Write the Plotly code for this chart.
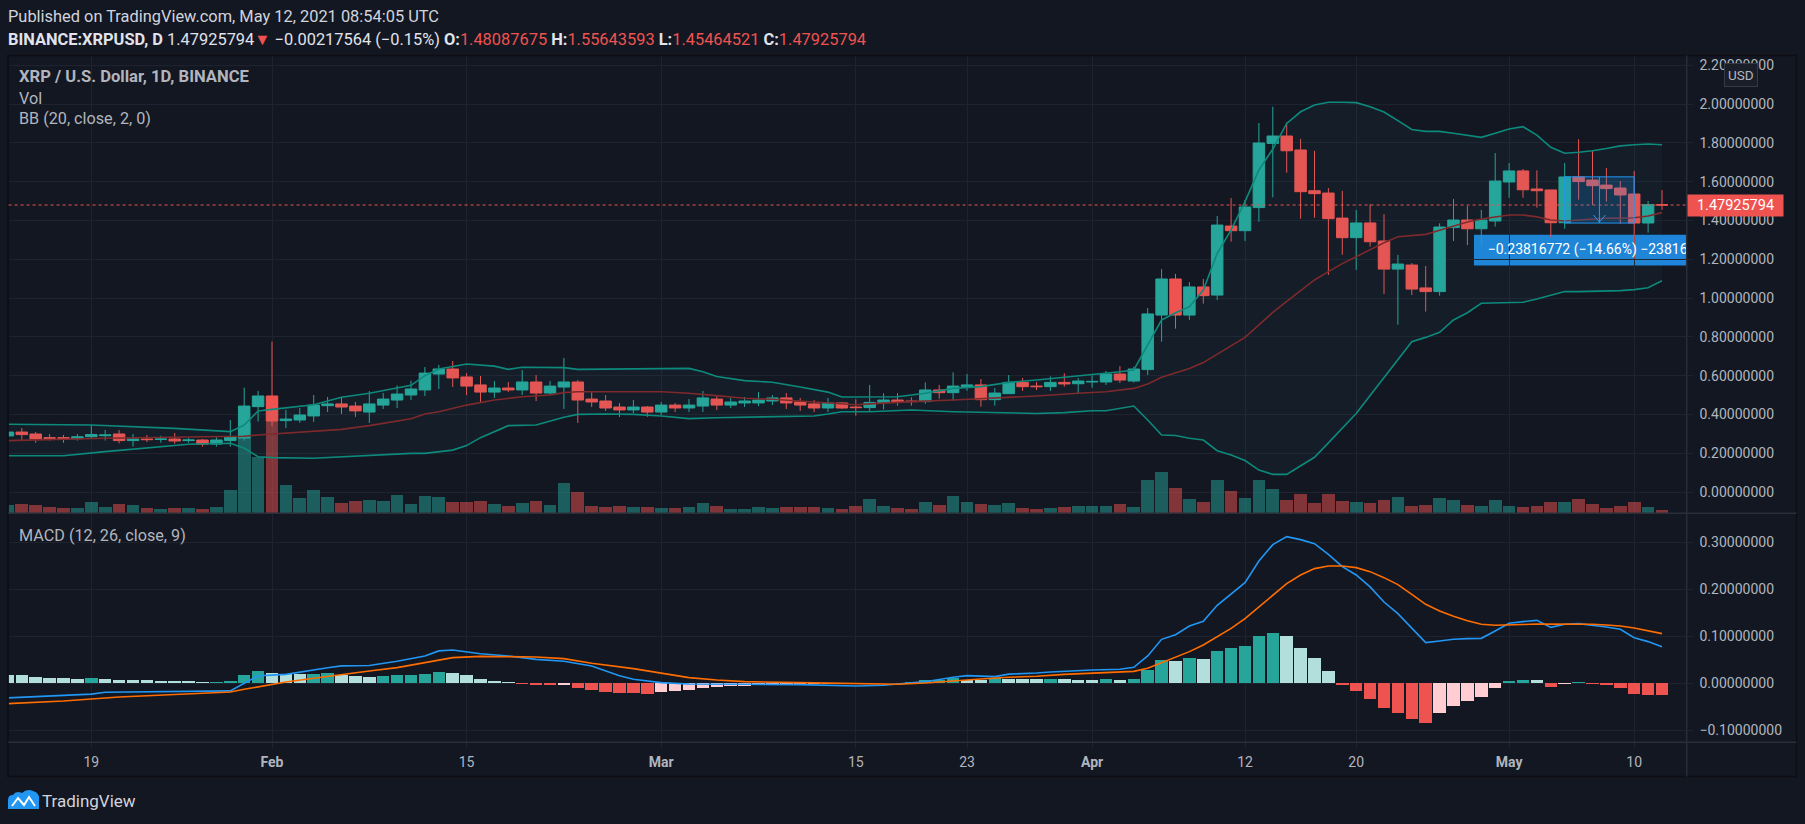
import pandas as pd
import plotly.graph_objects as go

W, H = 1805, 824
FONT = "Roboto, 'Open Sans', 'Liberation Sans', sans-serif"

# ======================= DATA =======================
first_day, last_day = "2021-01-13", "2021-05-12"

open_ = [0.289, 0.309, 0.299, 0.280, 0.280, 0.275, 0.285, 0.290, 0.299, 0.265,
         0.273, 0.271, 0.273, 0.265, 0.268, 0.247, 0.265, 0.278, 0.440, 0.495,
         0.368, 0.371, 0.392, 0.445, 0.454, 0.443, 0.412, 0.448, 0.474, 0.500,
         0.526, 0.608, 0.634, 0.593, 0.552, 0.515, 0.536, 0.526, 0.567, 0.510,
         0.541, 0.567, 0.479, 0.469, 0.438, 0.423, 0.438, 0.412, 0.448, 0.433,
         0.443, 0.479, 0.448, 0.459, 0.459, 0.469, 0.485, 0.464, 0.454, 0.433,
         0.459, 0.438, 0.435, 0.460, 0.474, 0.469, 0.466, 0.526, 0.512, 0.543,
         0.552, 0.476, 0.507, 0.565, 0.546, 0.543, 0.565, 0.558, 0.567, 0.567,
         0.608, 0.572, 0.631, 0.912, 1.098, 0.912, 1.057, 1.015, 1.371, 1.347,
         1.466, 1.797, 1.835, 1.763, 1.553, 1.541, 1.412, 1.311, 1.387, 1.294,
         1.149, 1.170, 1.052, 1.033, 1.363, 1.402, 1.357, 1.397, 1.598, 1.655,
         1.562, 1.557, 1.388, 1.624, 1.608, 1.582, 1.567, 1.536, 1.3865, 1.48087675]
high = [0.315, 0.330, 0.309, 0.299, 0.294, 0.299, 0.345, 0.320, 0.320, 0.299,
        0.294, 0.290, 0.304, 0.278, 0.273, 0.283, 0.371, 0.538, 0.521, 0.775,
        0.423, 0.433, 0.500, 0.490, 0.490, 0.464, 0.521, 0.510, 0.550, 0.574,
        0.644, 0.655, 0.675, 0.613, 0.598, 0.572, 0.567, 0.629, 0.603, 0.572,
        0.691, 0.577, 0.515, 0.500, 0.459, 0.474, 0.443, 0.464, 0.459, 0.479,
        0.521, 0.495, 0.485, 0.490, 0.515, 0.500, 0.510, 0.485, 0.474, 0.485,
        0.464, 0.478, 0.552, 0.509, 0.509, 0.488, 0.565, 0.552, 0.617, 0.608,
        0.582, 0.536, 0.603, 0.588, 0.567, 0.596, 0.612, 0.588, 0.601, 0.624,
        0.649, 0.646, 0.948, 1.149, 1.124, 1.082, 1.098, 1.423, 1.515, 1.505,
        1.902, 1.986, 1.905, 1.820, 1.758, 1.567, 1.552, 1.454, 1.485, 1.433,
        1.222, 1.180, 1.165, 1.385, 1.510, 1.474, 1.454, 1.747, 1.696, 1.665,
        1.658, 1.557, 1.696, 1.818, 1.758, 1.670, 1.603, 1.655, 1.500, 1.55643593]
low = [0.282, 0.268, 0.254, 0.265, 0.254, 0.265, 0.273, 0.265, 0.251, 0.234,
       0.258, 0.254, 0.249, 0.254, 0.234, 0.234, 0.234, 0.265, 0.363, 0.340,
       0.330, 0.357, 0.361, 0.412, 0.402, 0.387, 0.356, 0.428, 0.433, 0.474,
       0.495, 0.531, 0.541, 0.500, 0.464, 0.485, 0.515, 0.500, 0.469, 0.500,
       0.428, 0.356, 0.438, 0.418, 0.387, 0.407, 0.387, 0.397, 0.412, 0.412,
       0.412, 0.423, 0.433, 0.438, 0.443, 0.448, 0.428, 0.418, 0.412, 0.412,
       0.428, 0.393, 0.414, 0.426, 0.445, 0.445, 0.455, 0.481, 0.471, 0.522,
       0.440, 0.445, 0.507, 0.521, 0.526, 0.521, 0.543, 0.505, 0.538, 0.552,
       0.562, 0.564, 0.603, 0.775, 0.842, 0.887, 0.971, 0.990, 1.290, 1.294,
       1.393, 1.519, 1.646, 1.409, 1.414, 1.119, 1.223, 1.144, 1.265, 1.021,
       0.863, 1.015, 0.930, 1.012, 1.294, 1.273, 1.275, 1.368, 1.517, 1.517,
       1.466, 1.314, 1.357, 1.507, 1.479, 1.497, 1.383, 1.203, 1.337, 1.45464521]
close = [0.309, 0.296, 0.273, 0.277, 0.277, 0.285, 0.296, 0.294, 0.265, 0.273,
         0.270, 0.273, 0.263, 0.268, 0.247, 0.268, 0.283, 0.443, 0.495, 0.366,
         0.376, 0.397, 0.448, 0.454, 0.438, 0.418, 0.454, 0.479, 0.505, 0.531,
         0.613, 0.634, 0.588, 0.546, 0.515, 0.536, 0.526, 0.567, 0.510, 0.546,
         0.567, 0.474, 0.464, 0.433, 0.423, 0.438, 0.412, 0.448, 0.433, 0.448,
         0.485, 0.448, 0.464, 0.469, 0.474, 0.485, 0.459, 0.448, 0.433, 0.459,
         0.433, 0.435, 0.462, 0.474, 0.466, 0.466, 0.526, 0.512, 0.546, 0.552,
         0.476, 0.510, 0.565, 0.543, 0.543, 0.565, 0.557, 0.572, 0.570, 0.608,
         0.577, 0.634, 0.918, 1.098, 0.912, 1.057, 1.012, 1.376, 1.347, 1.469,
         1.799, 1.835, 1.759, 1.548, 1.538, 1.409, 1.311, 1.387, 1.290, 1.149,
         1.175, 1.046, 1.033, 1.366, 1.402, 1.357, 1.402, 1.603, 1.655, 1.558,
         1.553, 1.388, 1.624, 1.600, 1.579, 1.564, 1.531, 1.3865, 1.4814, 1.47925794]
volume_m = [25, 28, 25, 19, 16, 16, 34, 19, 28, 25,
            16, 13, 16, 16, 13, 19, 70, 270, 170, 344,
            85, 46, 70, 49, 31, 37, 40, 37, 55, 28,
            52, 49, 34, 34, 37, 28, 22, 31, 37, 25,
            91, 64, 22, 19, 22, 19, 19, 16, 16, 19,
            31, 22, 13, 13, 19, 16, 19, 19, 19, 16,
            13, 22, 43, 22, 16, 13, 34, 25, 52, 34,
            28, 25, 31, 16, 13, 16, 19, 22, 22, 22,
            28, 19, 100, 124, 76, 43, 34, 100, 67, 46,
            100, 73, 40, 58, 31, 58, 37, 34, 31, 40,
            49, 22, 25, 46, 40, 25, 22, 40, 22, 19,
            22, 34, 34, 43, 28, 16, 22, 34, 19, 10]

# Bollinger Bands (20, close, 2) read at the listed days
bb_upper_days = ["01-13", "01-19", "01-25", "01-29", "01-30", "01-31", "02-01", "02-04", "02-06", "02-08",
                 "02-11", "02-12", "02-13", "02-15", "02-17", "02-18", "02-19", "02-22", "02-23", "02-27",
                 "03-03", "03-04", "03-05", "03-07", "03-09", "03-11", "03-13", "03-14", "03-15", "03-18",
                 "03-20", "03-22", "03-24", "03-26", "03-28", "03-30", "04-01", "04-03", "04-04", "04-05",
                 "04-06", "04-07", "04-08", "04-09", "04-10", "04-11", "04-12", "04-13", "04-14", "04-15",
                 "04-16", "04-17", "04-18", "04-19", "04-20", "04-21", "04-22", "04-23", "04-24", "04-25",
                 "04-26", "04-27", "04-28", "04-29", "04-30", "05-01", "05-02", "05-03", "05-04", "05-05",
                 "05-06", "05-07", "05-08", "05-09", "05-10", "05-11", "05-12"]
bb_upper = [0.349, 0.345, 0.328, 0.311, 0.345, 0.418, 0.426, 0.450, 0.488, 0.509,
            0.550, 0.600, 0.634, 0.660, 0.649, 0.632, 0.643, 0.641, 0.632, 0.634,
            0.637, 0.620, 0.595, 0.574, 0.566, 0.541, 0.515, 0.490, 0.490, 0.491,
            0.509, 0.534, 0.543, 0.565, 0.577, 0.591, 0.603, 0.620, 0.629, 0.761,
            0.887, 0.924, 0.955, 1.041, 1.230, 1.351, 1.497, 1.660, 1.768, 1.900,
            1.960, 1.995, 2.009, 2.009, 2.007, 1.986, 1.959, 1.914, 1.869, 1.859,
            1.859, 1.849, 1.840, 1.828, 1.849, 1.871, 1.883, 1.840, 1.777, 1.746,
            1.751, 1.759, 1.771, 1.784, 1.790, 1.794, 1.790]
bb_basis_days = ["01-13", "01-20", "01-27", "01-30", "01-31", "02-04", "02-06", "02-08", "02-11", "02-12",
                 "02-13", "02-15", "02-17", "02-19", "02-21", "02-22", "02-23", "03-01", "03-03", "03-05",
                 "03-07", "03-09", "03-11", "03-13", "03-15", "03-16", "03-19", "03-22", "03-25", "03-28",
                 "03-31", "04-02", "04-04", "04-05", "04-06", "04-07", "04-08", "04-09", "04-10", "04-11",
                 "04-12", "04-13", "04-14", "04-15", "04-16", "04-17", "04-18", "04-19", "04-20", "04-21",
                 "04-22", "04-23", "04-24", "04-25", "04-26", "04-27", "04-28", "04-29", "04-30", "05-01",
                 "05-02", "05-03", "05-04", "05-05", "05-06", "05-07", "05-08", "05-09", "05-10", "05-11",
                 "05-12"]
bb_basis = [0.265, 0.277, 0.285, 0.287, 0.294, 0.311, 0.323, 0.342, 0.378, 0.402,
            0.414, 0.448, 0.474, 0.491, 0.500, 0.512, 0.517, 0.517, 0.509, 0.497,
            0.483, 0.478, 0.469, 0.460, 0.450, 0.454, 0.466, 0.474, 0.483, 0.495,
            0.509, 0.517, 0.534, 0.557, 0.591, 0.612, 0.637, 0.667, 0.710, 0.753,
            0.797, 0.861, 0.926, 0.983, 1.036, 1.093, 1.136, 1.177, 1.213, 1.249,
            1.285, 1.316, 1.321, 1.328, 1.349, 1.371, 1.392, 1.407, 1.419, 1.428,
            1.428, 1.418, 1.402, 1.397, 1.402, 1.407, 1.411, 1.412, 1.414, 1.423,
            1.440]
bb_lower_days = ["01-13", "01-17", "01-20", "01-24", "01-26", "01-29", "01-30", "01-31", "02-01", "02-04",
                 "02-06", "02-08", "02-11", "02-12", "02-14", "02-15", "02-16", "02-18", "02-20", "02-22",
                 "02-23", "02-25", "02-27", "03-01", "03-03", "03-05", "03-08", "03-12", "03-13", "03-14",
                 "03-16", "03-19", "03-22", "03-25", "03-28", "03-30", "04-01", "04-02", "04-04", "04-05",
                 "04-06", "04-07", "04-08", "04-09", "04-10", "04-11", "04-12", "04-13", "04-14", "04-15",
                 "04-16", "04-17", "04-18", "04-19", "04-20", "04-21", "04-22", "04-23", "04-24", "04-25",
                 "04-26", "04-27", "04-28", "04-29", "04-30", "05-01", "05-02", "05-03", "05-04", "05-05",
                 "05-06", "05-07", "05-08", "05-09", "05-10", "05-11", "05-12"]
bb_lower = [0.187, 0.187, 0.208, 0.234, 0.246, 0.251, 0.225, 0.182, 0.177, 0.174,
            0.182, 0.187, 0.199, 0.199, 0.216, 0.239, 0.280, 0.342, 0.345, 0.385,
            0.400, 0.402, 0.400, 0.392, 0.378, 0.383, 0.388, 0.392, 0.402, 0.414,
            0.414, 0.423, 0.414, 0.409, 0.405, 0.409, 0.419, 0.419, 0.443, 0.371,
            0.294, 0.291, 0.277, 0.268, 0.213, 0.191, 0.162, 0.113, 0.091, 0.091,
            0.134, 0.179, 0.253, 0.328, 0.405, 0.497, 0.591, 0.687, 0.775, 0.797,
            0.823, 0.887, 0.924, 0.973, 0.974, 0.976, 0.978, 0.995, 1.015, 1.033,
            1.033, 1.034, 1.035, 1.038, 1.043, 1.053, 1.089]

# MACD (12, 26, close, 9)
macd_days = ["01-13", "01-17", "01-19", "01-20", "01-25", "01-29", "01-30", "01-31", "02-01", "02-02",
             "02-05", "02-06", "02-08", "02-10", "02-12", "02-13", "02-14", "02-15", "02-16", "02-18",
             "02-20", "02-22", "02-24", "02-26", "02-27", "03-01", "03-03", "03-07", "03-11", "03-15",
             "03-17", "03-18", "03-20", "03-22", "03-23", "03-25", "03-26", "03-28", "03-29", "04-01",
             "04-03", "04-04", "04-05", "04-06", "04-07", "04-08", "04-09", "04-10", "04-11", "04-12",
             "04-13", "04-14", "04-15", "04-16", "04-17", "04-18", "04-19", "04-20", "04-21", "04-22",
             "04-23", "04-24", "04-25", "04-26", "04-27", "04-28", "04-29", "04-30", "05-01", "05-02",
             "05-03", "05-04", "05-05", "05-06", "05-07", "05-08", "05-09", "05-10", "05-11", "05-12"]
macd_line = [-0.031, -0.026, -0.023, -0.019, -0.018, -0.016, 0.000, 0.016, 0.0175, 0.019,
             0.033, 0.037, 0.038, 0.047, 0.058, 0.069, 0.071, 0.067, 0.063, 0.058,
             0.051, 0.047, 0.037, 0.016, 0.0085, 0.0014, -0.0014, -0.0021, -0.0028, -0.0057,
             -0.004, -0.0014, 0.0035, 0.0128, 0.0163, 0.0142, 0.0195, 0.022, 0.0241, 0.0284,
             0.0298, 0.034, 0.0582, 0.0936, 0.1035, 0.1220, 0.1319, 0.1660, 0.1894, 0.2142,
             0.2603, 0.2950, 0.3121, 0.3057, 0.2972, 0.2745, 0.2482, 0.2305, 0.2050, 0.1730,
             0.1482, 0.1163, 0.0865, 0.0901, 0.0936, 0.0950, 0.0957, 0.1113, 0.1277, 0.1312,
             0.1340, 0.1190, 0.1255, 0.1270, 0.1240, 0.1199, 0.1149, 0.0970, 0.0887, 0.0780]
signal_days = ["01-13", "01-17", "01-21", "01-25", "01-29", "01-30", "02-01", "02-02", "02-04", "02-06",
               "02-08", "02-10", "02-12", "02-14", "02-16", "02-18", "02-20", "02-22", "02-24", "02-27",
               "03-01", "03-03", "03-05", "03-07", "03-11", "03-15", "03-18", "03-20", "03-22", "03-24",
               "03-26", "03-28", "03-30", "04-01", "04-04", "04-05", "04-06", "04-07", "04-08", "04-09",
               "04-10", "04-11", "04-12", "04-13", "04-14", "04-15", "04-16", "04-17", "04-18", "04-19",
               "04-20", "04-21", "04-22", "04-23", "04-24", "04-25", "04-26", "04-27", "04-28", "04-29",
               "04-30", "05-01", "05-02", "05-03", "05-04", "05-05", "05-06", "05-07", "05-08", "05-09",
               "05-10", "05-11", "05-12"]
signal_line = [-0.0433, -0.0376, -0.0291, -0.0234, -0.0184, -0.0128, -0.0021, 0.0028, 0.0106, 0.0191,
               0.0262, 0.0333, 0.0440, 0.0546, 0.0574, 0.0574, 0.0560, 0.0525, 0.0426, 0.0312,
               0.0213, 0.0121, 0.0071, 0.0035, 0.0014, -0.0007, -0.0021, 0.0007, 0.0057, 0.0092,
               0.0128, 0.0150, 0.0190, 0.0220, 0.0255, 0.0319, 0.0440, 0.0560, 0.0674, 0.0816,
               0.0993, 0.1170, 0.1376, 0.1631, 0.1872, 0.2121, 0.2305, 0.2440, 0.2496, 0.2496,
               0.2461, 0.2376, 0.2248, 0.2099, 0.1894, 0.1681, 0.1539, 0.1426, 0.1333, 0.1255,
               0.1234, 0.1234, 0.1250, 0.1262, 0.1262, 0.1262, 0.1262, 0.1255, 0.1241, 0.1220,
               0.1177, 0.1120, 0.1057]
macd_hist = [0.0175, 0.0170, 0.0142, 0.0120, 0.0118, 0.0099, 0.0103, 0.0099, 0.0078, 0.0076,
             0.0074, 0.0057, 0.0055, 0.0053, 0.0035, 0.0038, 0.0057, 0.0170, 0.0270, 0.0227,
             0.0206, 0.0191, 0.0206, 0.0212, 0.0170, 0.0156, 0.0142, 0.0156, 0.0170, 0.0172,
             0.0206, 0.0248, 0.0227, 0.0170, 0.0099, 0.0050, 0.0021, -0.0014, -0.0043, -0.0045,
             -0.0040, -0.0106, -0.0135, -0.0177, -0.0213, -0.0215, -0.0218, -0.0184, -0.0170, -0.0149,
             -0.0106, -0.0085, -0.0064, -0.0050, -0.0035, -0.0025, -0.0018, -0.0012, -0.0008, -0.0006,
             -0.0004, -0.0008, -0.0002, 0.0005, 0.0012, 0.0028, 0.0068, 0.0075, 0.0113, 0.0071,
             0.0069, 0.0113, 0.0092, 0.0088, 0.0085, 0.0090, 0.0085, 0.0066, 0.0064, 0.0085,
             0.0064, 0.0088, 0.0280, 0.0489, 0.0468, 0.0532, 0.0511, 0.0681, 0.0745, 0.0787,
             0.1000, 0.1064, 0.1000, 0.0745, 0.0532, 0.0255, -0.0043, -0.0170, -0.0340, -0.0532,
             -0.0638, -0.0766, -0.0851, -0.0638, -0.0489, -0.0383, -0.0298, -0.0106, 0.0043, 0.0071,
             0.0069, -0.0071, -0.0014, 0.0028, -0.0021, -0.0035, -0.0099, -0.0220, -0.0240, -0.0245]

tick_days = ["01-19", "02-01", "02-15", "03-01", "03-15", "03-23", "04-01", "04-12", "04-20", "05-01", "05-10"]
tick_text = ["19", "<b>Feb</b>", "15", "<b>Mar</b>", "15", "23", "<b>Apr</b>", "12", "20", "<b>May</b>", "10"]
price_ticks = [0.0, 0.2, 0.4, 0.6, 0.8, 1.0, 1.2, 1.4, 1.6, 1.8, 2.0, 2.2]
macd_ticks = [-0.1, 0.0, 0.1, 0.2, 0.3]

last_price = 1.47925794
measure_start, measure_end = "05-05", "05-10"
measure_from, measure_to = 1.62454566, 1.38637794

# ======================= helpers / geometry =======================
def d(s):
    return pd.Timestamp("2021-" + s)

def days(lst):
    return [d(s) for s in lst]

dates = pd.date_range(first_day, last_day, freq="D")

BG = "#131722"
GRID = "#1f2330"
BORDER = "#2a2e39"
TEXT = "#b2b5be"
UP, DOWN = "#26a69a", "#ef5350"

PLOT_L, PLOT_R = 8.6, 1686.7
PRICE_TOP, PRICE_BOT, MACD_BOT = 55.7, 513.3, 742.3
FRAME_L, FRAME_T, FRAME_R, FRAME_B = 8.0, 55.5, 1796.5, 776.5
FEB1_PX, PX_PER_DAY = 272.0, 13.9


def fx(px):
    return px / W


def fy(py):
    return 1 - py / H


anchor = pd.Timestamp("2021-02-01")
x_range = [anchor + pd.Timedelta(days=(PLOT_L - FEB1_PX) / PX_PER_DAY),
           anchor + pd.Timedelta(days=(PLOT_R - FEB1_PX) / PX_PER_DAY)]
price_range = [-0.1098, 2.249]
macd_range = [-0.1255, 0.3617]
vol_range = [0, 3 * (PRICE_BOT - PRICE_TOP)]
price_per_px = (price_range[1] - price_range[0]) / (PRICE_BOT - PRICE_TOP)

DAY_MS = 86400000

fig = go.Figure()

# volume (base axis of the price pane, drawn below everything else)
vol_colors = ["rgba(38,166,154,0.5)" if c >= o else "rgba(239,83,80,0.5)" for o, c in zip(open_, close)]
fig.add_trace(go.Bar(x=dates, y=volume_m, marker=dict(color=vol_colors, line=dict(width=0)),
                     width=0.92 * DAY_MS, xaxis="x", yaxis="y", hoverinfo="skip"))

# Bollinger band fill + lines
fig.add_trace(go.Scatter(x=days(bb_upper_days), y=bb_upper, mode="lines",
                         line=dict(color="#0d8a7c", width=1.6), xaxis="x", yaxis="y2"))
fig.add_trace(go.Scatter(x=days(bb_lower_days), y=bb_lower, mode="lines",
                         line=dict(color="#0d8a7c", width=1.6), fill="tonexty",
                         fillcolor="rgba(38,166,154,0.05)", xaxis="x", yaxis="y2"))
fig.add_trace(go.Scatter(x=days(bb_basis_days), y=bb_basis, mode="lines",
                         line=dict(color="#7e2a2c", width=1.6), xaxis="x", yaxis="y2"))

# candles
fig.add_trace(go.Candlestick(x=dates, open=open_, high=high, low=low, close=close,
                             increasing=dict(line=dict(color=UP, width=1), fillcolor=UP),
                             decreasing=dict(line=dict(color=DOWN, width=1), fillcolor=DOWN),
                             whiskerwidth=0, xaxis="x", yaxis="y2", hoverinfo="skip"))

# MACD histogram
hist_colors = []
prev = None
for h in macd_hist:
    p = h if prev is None else prev
    if h >= 0:
        hist_colors.append("#26a69a" if h > p else "#b2dfdb")
    else:
        hist_colors.append("#ef5350" if h < p else "#ffcdd2")
    prev = h
fig.add_trace(go.Bar(x=dates, y=macd_hist, marker=dict(color=hist_colors, line=dict(width=0)),
                     width=0.9 * DAY_MS, xaxis="x2", yaxis="y3", hoverinfo="skip"))
fig.add_trace(go.Scatter(x=days(macd_days), y=macd_line, mode="lines",
                         line=dict(color="#2196f3", width=1.6), xaxis="x2", yaxis="y3"))
fig.add_trace(go.Scatter(x=days(signal_days), y=signal_line, mode="lines",
                         line=dict(color="#ff6d00", width=1.6), xaxis="x2", yaxis="y3"))

# measure label text (clipped by the pane like in the reference)
m_mid = d(measure_start) + (d(measure_end) - d(measure_start)) / 2
label_y = measure_to - (12 + 15.4) * price_per_px
change = measure_to - measure_from
fig.add_trace(go.Scatter(
    x=[m_mid], y=[label_y], mode="text",
    text=["\u2212%.8f (\u2212%.2f%%) \u2212%d" % (abs(change), abs(change) / measure_from * 100,
                                                  round(abs(change) * 1e8))],
    textposition="middle center", textfont=dict(family=FONT, size=14, color="#ffffff"),
    cliponaxis=True, xaxis="x", yaxis="y2", hoverinfo="skip"))

axis_common = dict(showline=False, zeroline=False, gridcolor=GRID, gridwidth=1)
tick_vals = days(tick_days)

fig.update_layout(
    width=W, height=H, margin=dict(l=0, r=0, t=0, b=0),
    paper_bgcolor=BG, plot_bgcolor=BG, showlegend=False, hovermode=False,
    barmode="overlay", bargap=0, boxgap=0.08, boxgroupgap=0.1,
    font=dict(family=FONT, color=TEXT, size=14),
    xaxis=dict(domain=[fx(PLOT_L), fx(PLOT_R)], range=x_range, type="date", anchor="y",
               tickvals=tick_vals, showticklabels=False, ticks="", showgrid=True,
               rangeslider=dict(visible=False), **axis_common),
    xaxis2=dict(domain=[fx(PLOT_L), fx(PLOT_R)], range=x_range, type="date", anchor="y3", matches="x",
                tickvals=tick_vals, ticktext=tick_text, showgrid=True, ticks="outside", ticklen=5,
                tickcolor=GRID, tickfont=dict(family=FONT, size=14, color=TEXT),
                ticklabelstandoff=2, **axis_common),
    yaxis=dict(domain=[fy(PRICE_BOT), fy(PRICE_TOP)], range=vol_range, visible=False, anchor="x"),
    yaxis2=dict(overlaying="y", side="right", anchor="x", range=price_range, tickvals=price_ticks,
                tickformat=".8f", showgrid=True, ticks="outside", ticklen=5, tickcolor=GRID,
                tickfont=dict(family=FONT, size=14, color=TEXT), ticklabelstandoff=4, **axis_common),
    yaxis3=dict(domain=[fy(MACD_BOT), fy(PRICE_BOT)], anchor="x2", side="right", range=macd_range,
                tickvals=macd_ticks, tickformat=".8f", showgrid=True, ticks="outside", ticklen=5,
                tickcolor=GRID, tickfont=dict(family=FONT, size=14, color=TEXT), ticklabelstandoff=4,
                **axis_common),
)

shapes = []
# frame + separators
shapes.append(dict(type="rect", xref="paper", yref="paper", x0=fx(FRAME_L), x1=fx(FRAME_R),
                   y0=fy(FRAME_B), y1=fy(FRAME_T), line=dict(color="#0c0e14", width=1.5), layer="above"))
for py in (PRICE_BOT, MACD_BOT):
    shapes.append(dict(type="line", xref="paper", yref="paper", x0=fx(FRAME_L), x1=fx(FRAME_R),
                       y0=fy(py), y1=fy(py), line=dict(color=BORDER, width=1.5), layer="above"))
shapes.append(dict(type="line", xref="paper", yref="paper", x0=fx(PLOT_R), x1=fx(PLOT_R),
                   y0=fy(FRAME_B), y1=fy(FRAME_T), line=dict(color=BORDER, width=1.5), layer="above"))
# last price dotted line
shapes.append(dict(type="line", xref="paper", yref="y2", x0=fx(PLOT_L), x1=fx(PLOT_R),
                   y0=last_price, y1=last_price, line=dict(color=DOWN, width=1, dash="dot"), layer="above"))
# measure tool
shapes.append(dict(type="rect", xref="x", yref="y2", x0=d(measure_start), x1=d(measure_end),
                   y0=measure_to, y1=measure_from, fillcolor="rgba(33,150,243,0.22)",
                   line=dict(color="#2196f3", width=1), layer="above"))
shapes.append(dict(type="line", xref="x", yref="y2", x0=m_mid, x1=m_mid, y0=measure_from,
                   y1=measure_to, line=dict(color="#2196f3", width=1), layer="above"))
shapes.append(dict(type="path", xref="x", yref="y2", xsizemode="pixel", ysizemode="pixel",
                   xanchor=m_mid, yanchor=measure_to, path="M -6 8 L 0 1 L 6 8",
                   line=dict(color="#2196f3", width=1), layer="above"))
shapes.append(dict(type="rect", xref="x", yref="y2", xsizemode="pixel", ysizemode="pixel",
                   xanchor=m_mid, yanchor=measure_to, x0=-125.5, x1=125.5, y0=-11.7, y1=-42.4,
                   fillcolor="#1f84db", line=dict(width=0), layer="below"))
# TradingView logo (simple mark)
shapes.append(dict(type="path", xref="paper", yref="paper", xsizemode="pixel", ysizemode="pixel",
                   xanchor=0, yanchor=1,
                   path="M 8 -809 L 8 -800 Q 8 -795 13 -795 Q 16 -790 22 -793 Q 27 -788 33 -791 "
                        "Q 40 -793 39 -800 L 39 -809 Z",
                   fillcolor="#2196f3", line=dict(width=0), layer="above"))
shapes.append(dict(type="path", xref="paper", yref="paper", xsizemode="pixel", ysizemode="pixel",
                   xanchor=0, yanchor=1, path="M 12 -806 L 18 -798 L 24 -805 L 29 -797 L 35 -806",
                   line=dict(color="#ffffff", width=2), layer="above"))
fig.update_layout(shapes=shapes)

ann = []


def text(px, py, s, size=14, color=TEXT, xanchor="left", **kw):
    ann.append(dict(xref="paper", yref="paper", x=fx(px), y=fy(py), text=s, showarrow=False,
                    xanchor=xanchor, yanchor="middle", font=dict(family=FONT, size=size, color=color), **kw))


text(6, 16.7, "Published on TradingView.com, May 12, 2021 08:54:05 UTC", size=16.4, color="#d1d4dc")
red = lambda s: "<span style='color:%s'>%s</span>" % (DOWN, s)
text(6, 39.2, "<b>BINANCE:XRPUSD, D</b> 1.47925794" + red("\u25bc") + " \u22120.00217564 (\u22120.15%) "
     + "<b>O:</b>" + red("1.48087675") + " <b>H:</b>" + red("1.55643593") + " <b>L:</b>"
     + red("1.45464521") + " <b>C:</b>" + red("1.47925794"), size=16.4, color="#e0e3eb")
text(17, 76.7, "<b>XRP / U.S. Dollar, 1D, BINANCE</b>", size=16.6)
text(17, 98, "Vol", size=16.2)
text(17, 118.5, "BB (20, close, 2, 0)", size=16.2)
text(17, 535.5, "MACD (12, 26, close, 9)", size=16.2)
text(40, 801, "TradingView", size=17, color="#d1d4dc")

# last price label on the axis
ann.append(dict(xref="paper", yref="y2", x=fx(PLOT_R), y=last_price, text="%.8f" % last_price,
                showarrow=False, xanchor="left", yanchor="middle", bgcolor=DOWN, width=91, height=17,
                borderpad=2, align="center", font=dict(family=FONT, size=14.5, color="#ffffff")))
# currency badge
ann.append(dict(xref="paper", yref="paper", x=fx(1740.5), y=fy(75), text="USD", showarrow=False,
                xanchor="center", yanchor="middle", bgcolor="#1a1e29", bordercolor="#363a45",
                borderwidth=1, borderpad=3, font=dict(family=FONT, size=13.5, color=TEXT)))
fig.update_layout(annotations=ann)

# the page body has a default 8px margin; remove it so the figure sits at the window origin
fig.write_html("out.html", config={"displayModeBar": False, "staticPlot": True},
               post_script="document.body.style.margin='0px';document.body.style.overflow='hidden';")
